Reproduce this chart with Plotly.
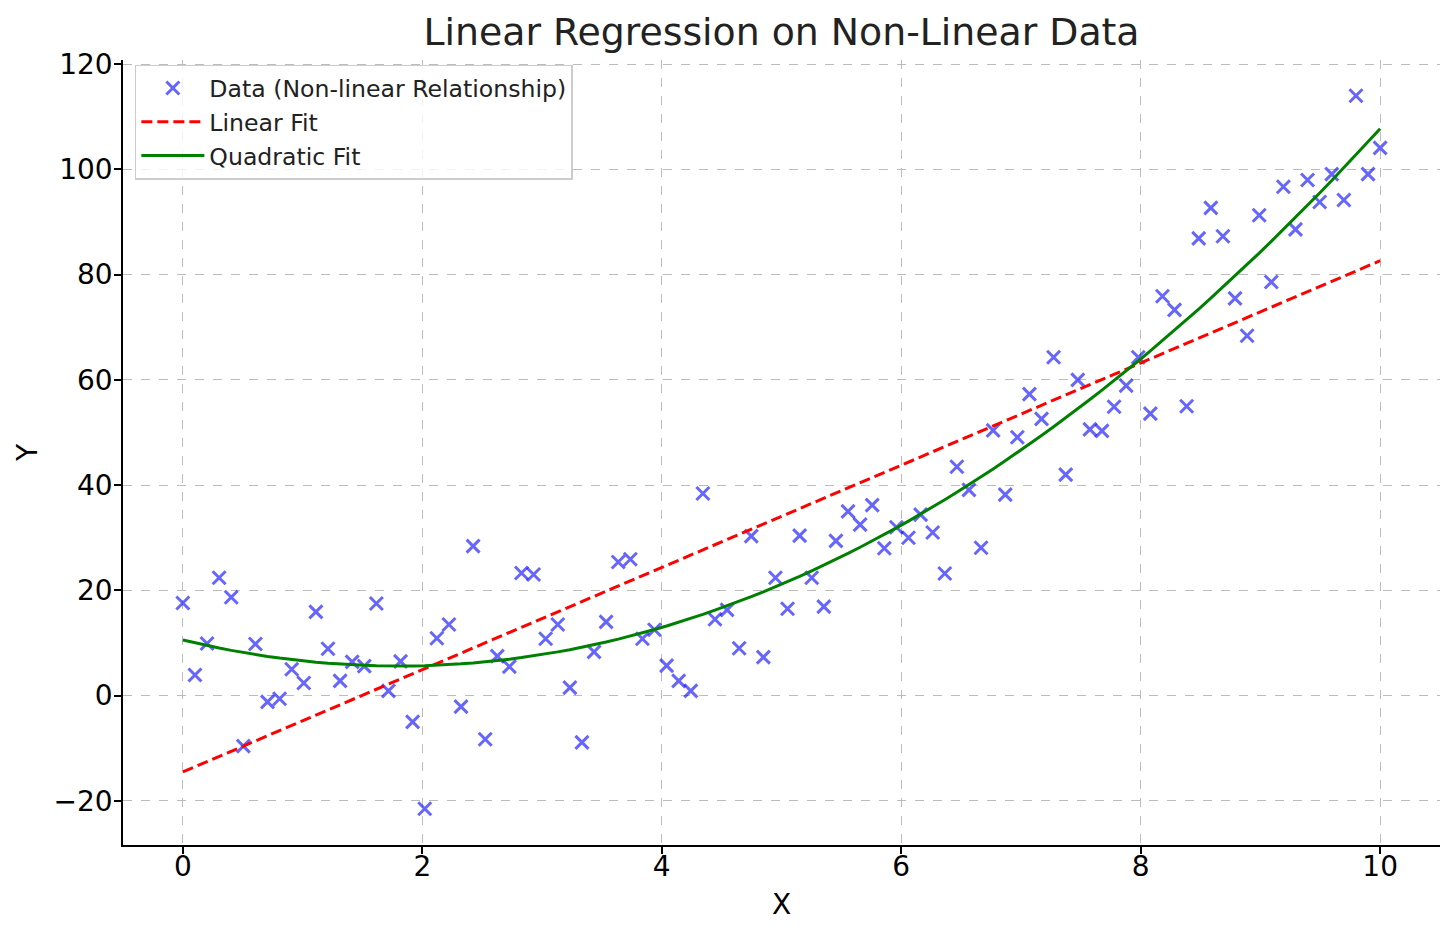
import numpy as np
import plotly.graph_objects as go

# Data
x_values = np.linspace(0, 10, 100)
y_values = [
    17.6, 3.9, 9.9, 22.4, 18.7, -9.6, 9.8, -1.2, -0.6, 5.0,
    2.4, 15.9, 8.9, 2.8, 6.4, 5.6, 17.5, 0.9, 6.5, -5.0,
    -21.5, 10.9, 13.5, -2.1, 28.4, -8.3, 7.5, 5.5, 23.3, 23.0,
    10.8, 13.5, 1.5, -8.9, 8.3, 14.0, 25.4, 25.9, 10.8, 12.5,
    5.7, 2.8, 0.9, 38.4, 14.5, 16.3, 9.0, 30.3, 7.3, 22.4,
    16.5, 30.4, 22.4, 16.9, 29.4, 35.0, 32.5, 36.2, 28.0, 32.0,
    30.0, 34.4, 31.0, 23.2, 43.5, 39.1, 28.1, 50.4, 38.2, 49.1,
    57.3, 52.6, 64.3, 42.0, 60.0, 50.6, 50.3, 54.9, 58.9, 64.3,
    53.6, 75.9, 73.3, 55.0, 86.9, 92.7, 87.3, 75.5, 68.4, 91.3,
    78.6, 96.7, 88.6, 98.0, 93.8, 99.1, 94.2, 114.0, 99.1, 104.1,
]
x_ticks = [0, 2, 4, 6, 8, 10]
y_ticks = [-20, 0, 20, 40, 60, 80, 100, 120]

y_arr = np.array(y_values)
lin_coef = np.polyfit(x_values, y_arr, 1)
quad_coef = np.polyfit(x_values, y_arr, 2)
y_lin = np.polyval(lin_coef, x_values)
y_quad = np.polyval(quad_coef, x_values)

font_family = "DejaVu Sans"

fig = go.Figure()
fig.add_trace(go.Scatter(
    x=x_values, y=y_values, mode="markers",
    name="Data (Non-linear Relationship)",
    marker=dict(symbol="x-thin", size=13, color="rgba(0,0,255,0.6)",
                line=dict(width=3, color="rgba(0,0,255,0.6)")),
))
fig.add_trace(go.Scatter(
    x=x_values, y=y_lin, mode="lines", name="Linear Fit",
    line=dict(color="red", width=3, dash="11px,5px"),
))
fig.add_trace(go.Scatter(
    x=x_values, y=y_quad, mode="lines", name="Quadratic Fit",
    line=dict(color="green", width=3),
))

fig.update_layout(
    width=1448, height=927,
    margin=dict(l=115, r=16, t=52, b=90, autoexpand=False),
    paper_bgcolor="white", plot_bgcolor="white",
    font=dict(family=font_family, size=28, color="black"),
    title=dict(text="Linear Regression on Non-Linear Data", x=0.5, xref="paper",
               xanchor="center", y=0.974, yanchor="middle",
               font=dict(size=37.8, color="#222222", family=font_family)),
    legend=dict(x=0.009, y=0.994, xanchor="left", yanchor="top",
                bgcolor="rgba(255,255,255,0.8)", bordercolor="#cccccc", borderwidth=1.5,
                font=dict(size=23.6, color="#222222"), itemwidth=63, tracegroupgap=4),
    showlegend=True,
)
fig.update_xaxes(
    range=[-0.5, 10.5], tickvals=x_ticks, showgrid=True, gridcolor="#bcbcbc",
    griddash="dash", gridwidth=1, zeroline=False, showline=True, linecolor="black",
    linewidth=1.5, ticks="outside", ticklen=7, tickwidth=1.5, tickcolor="black",
    tickfont=dict(size=28), automargin=False, ticklabelstandoff=-11,
    title=dict(text="X", font=dict(size=28), standoff=12), mirror=False,
)
fig.update_yaxes(
    range=[-28.4, 120.8], tickvals=y_ticks, showgrid=True, gridcolor="#bcbcbc",
    griddash="dash", gridwidth=1, zeroline=False, showline=True, linecolor="black",
    linewidth=1.5, ticks="outside", ticklen=7, tickwidth=1.5, tickcolor="black",
    tickfont=dict(size=28), automargin=False, ticklabelstandoff=-4,
    title=dict(text="Y", font=dict(size=28), standoff=8), mirror=False,
)

fig.write_html("out.html")
